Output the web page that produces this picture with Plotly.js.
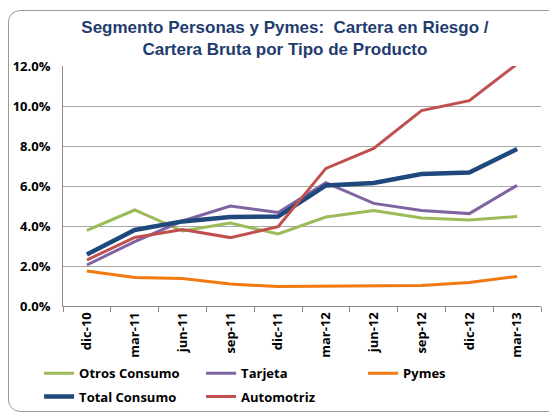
<!DOCTYPE html>
<html><head><meta charset="utf-8">
<script src="https://cdn.plot.ly/plotly-3.0.1.min.js"></script>
<style>
html,body{margin:0;padding:0;background:#fff;}
#wrap{position:relative;width:549px;height:414px;overflow:hidden;}
#chart{position:absolute;left:0;top:0;width:549px;height:414px;}
#frame{position:absolute;left:8px;top:10px;width:560px;height:402px;border:1px solid #9a9a9a;border-radius:12px;pointer-events:none;box-sizing:border-box;}
</style>
</head><body>
<div id="wrap"><div id="chart"></div><div id="frame"></div></div>
<script>
const categories = ["dic-10","mar-11","jun-11","sep-11","dic-11","mar-12","jun-12","sep-12","dic-12","mar-13"];
const otrosConsumo = [3.78, 4.80, 3.75, 4.15, 3.60, 4.45, 4.77, 4.40, 4.30, 4.47];
const tarjeta      = [2.05, 3.22, 4.25, 5.00, 4.68, 6.17, 5.13, 4.77, 4.62, 6.03];
const pymes        = [1.75, 1.43, 1.37, 1.10, 0.97, 0.98, 1.02, 1.02, 1.17, 1.48];
const totalConsumo = [2.58, 3.80, 4.23, 4.45, 4.47, 6.03, 6.15, 6.60, 6.67, 7.85];
const automotriz   = [2.30, 3.43, 3.83, 3.42, 3.97, 6.88, 7.88, 9.77, 10.27, 12.10];
const yTicks = [0, 2, 4, 6, 8, 10, 12];
const yTickText = ["0.0%","2.0%","4.0%","6.0%","8.0%","10.0%","12.0%"];

const series = [
  {name:"Otros Consumo", y: otrosConsumo, color:"#9BBB59", w:3, lg:"legend"},
  {name:"Tarjeta", y: tarjeta, color:"#8064A2", w:3, lg:"legend"},
  {name:"Pymes", y: pymes, color:"#F07A10", w:3, lg:"legend"},
  {name:"Total Consumo", y: totalConsumo, color:"#1F497D", w:4.5, lg:"legend2"},
  {name:"Automotriz", y: automotriz, color:"#C0504D", w:3, lg:"legend2"}
];
const traces = series.map(s => ({
  type:"scatter", mode:"lines", x: categories, y: s.y, name: s.name,
  line:{color:s.color, width:s.w}, legend: s.lg
}));

const tickFont = {family:"Open Sans, Liberation Sans, sans-serif", size:13, color:"#000", weight:"bold"};
const legFont = {family:"Open Sans, Liberation Sans, sans-serif", size:13, color:"#000", weight:"bold"};
const layout = {
  width:549, height:414,
  margin:{l:63, r:8, t:66, b:108, autoexpand:false},
  paper_bgcolor:"rgba(0,0,0,0)", plot_bgcolor:"#fff",
  title:{text:"<b>Segmento Personas y Pymes:  Cartera en Riesgo /<br>Cartera Bruta por Tipo de Producto</b>",
    font:{family:"Liberation Sans, Arial, sans-serif", size:17, color:"#1F3C6E"},
    x:0.519, xref:"container", xanchor:"center", y:0.921, yanchor:"middle"},
  xaxis:{type:"category", range:[-0.5, 9.5], tickangle:-90, tickfont:tickFont, showgrid:false,
    showline:true, linecolor:"#8c8c8c", linewidth:1, ticks:"outside", tickson:"boundaries",
    ticklen:5, tickcolor:"#8c8c8c", zeroline:false, fixedrange:true},
  yaxis:{range:[0,12], tickvals:yTicks, ticktext:yTickText, tickfont:tickFont,
    showgrid:true, gridcolor:"#a6a6a6", gridwidth:1, showline:true, linecolor:"#8c8c8c",
    zeroline:false, ticks:"", ticklabelstandoff:9, fixedrange:true},
  showlegend:true,
  legend:{orientation:"h", x:-0.05, xanchor:"left", y:-0.218, yanchor:"top",
    entrywidth:117, entrywidthmode:"pixels", traceorder:"normal",
    font:legFont, bgcolor:"rgba(0,0,0,0)"},
  legend2:{orientation:"h", x:-0.05, xanchor:"left", y:-0.315, yanchor:"top",
    entrywidth:117, entrywidthmode:"pixels", traceorder:"normal",
    font:legFont, bgcolor:"rgba(0,0,0,0)"}
};
Plotly.newPlot("chart", traces, layout, {staticPlot:true, displayModeBar:false});
</script>
</body></html>
